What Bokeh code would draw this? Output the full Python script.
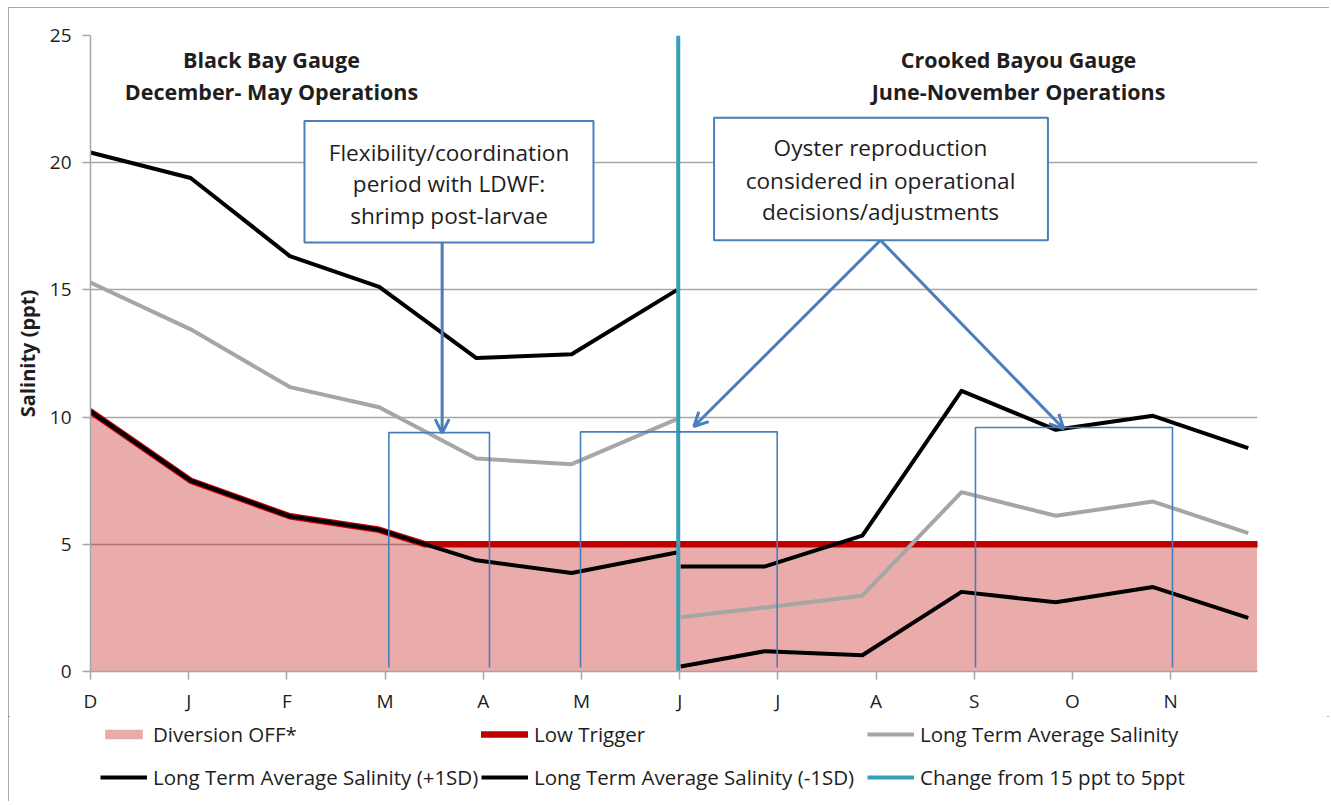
from bokeh.plotting import figure
from bokeh.layouts import column
from bokeh.models import (FixedTicker, Legend, LegendItem, Label, BoxAnnotation,
                          Arrow, OpenHead, Range1d)
from bokeh.embed import file_html
from bokeh.resources import INLINE

# ---------------- data ----------------
months = ["D", "J", "F", "M", "A", "M", "J", "J", "A", "S", "O", "N"]
tick_pos = list(range(12))

# Black Bay gauge (December - May operations), x in months from 1 Dec
bb_x = [0.0, 1.02, 2.03, 2.94, 3.93, 4.90, 5.97]
bb_avg = [15.29, 13.45, 11.18, 10.39, 8.37, 8.15, 9.92]
bb_upper = [20.40, 19.40, 16.33, 15.12, 12.32, 12.47, 14.99]
bb_lower = [10.22, 7.50, 6.10, 5.57, 4.37, 3.87, 4.68]

# Crooked Bayou gauge (June - November operations)
cb_x = [6.01, 6.87, 7.86, 8.87, 9.83, 10.82, 11.79]
cb_avg = [2.13, 2.52, 2.98, 7.05, 6.12, 6.68, 5.44]
cb_upper = [4.13, 4.13, 5.34, 11.03, 9.50, 10.05, 8.78]
cb_lower = [0.20, 0.80, 0.64, 3.13, 2.72, 3.32, 2.11]

# Low trigger (Diversion OFF below it)
trigger_x = [0.0, 1.02, 2.03, 2.94, 3.41, 11.88]
trigger_y = [10.22, 7.50, 6.10, 5.57, 5.00, 5.00]

# Change from 15 ppt to 5 ppt (1 June)
change_x = [5.985, 5.985]
change_y = [0.0, 25.0]

FONT = "Open Sans"
TXT = "#1e1e1e"
BLUE = "#4a7ebb"
RED = "#c00000"
GRAY = "#a6a6a6"
TEAL = "#34a0b8"

p = figure(width=1321, height=709, output_backend="svg", toolbar_location=None,
           x_range=Range1d(0, 11.884), y_range=Range1d(0, 25),
           min_border_left=82, min_border_right=72, min_border_top=28,
           min_border_bottom=44)
p.outline_line_color = None
p.background_fill_color = "white"
p.border_fill_color = "white"

# axes
p.xaxis.ticker = FixedTicker(ticks=tick_pos)
p.xaxis.major_label_overrides = {i: m for i, m in enumerate(months)}
p.yaxis.ticker = FixedTicker(ticks=[0, 5, 10, 15, 20, 25])
for ax in (p.xaxis[0], p.yaxis[0]):
    ax.axis_line_color = GRAY
    ax.axis_line_width = 1.5
    ax.major_tick_line_color = GRAY
    ax.major_tick_line_width = 1.5
    ax.major_tick_out = 8
    ax.major_tick_in = 0
    ax.minor_tick_line_color = None
    ax.major_label_text_font = FONT
    ax.major_label_text_font_size = "19px"
    ax.major_label_text_color = TXT
p.xaxis.major_label_standoff = 8
p.yaxis.major_label_standoff = 11
p.yaxis.axis_label = "Salinity (ppt)"
p.yaxis.axis_label_text_font = FONT
p.yaxis.axis_label_text_font_style = "bold"
p.yaxis.axis_label_text_font_size = "20px"
p.yaxis.axis_label_text_color = TXT
p.yaxis.axis_label_standoff = 6
p.xgrid.grid_line_color = None
p.ygrid.grid_line_color = GRAY
p.ygrid.grid_line_width = 1.3

# series
nan = float("nan")
all_x = bb_x + [nan] + cb_x
avg = bb_avg + [nan] + cb_avg
upper = bb_upper + [nan] + cb_upper
lower = bb_lower + [nan] + cb_lower

p.varea(x=trigger_x, y1=[0] * len(trigger_x), y2=trigger_y,
        fill_color=RED, fill_alpha=0.33)
p.line(trigger_x, trigger_y, line_color=RED, line_width=6.5,
       line_join="round", line_cap="round")
p.line(all_x, avg, line_color=GRAY, line_width=4, line_join="round")
p.line(all_x, upper, line_color="black", line_width=4, line_join="round")
p.line(all_x, lower, line_color="black", line_width=4, line_join="round")
p.line(change_x, change_y, line_color=TEAL, line_width=4)

# bracket boxes (open at bottom)
brackets = [(3.038, 4.063, 9.39), (4.99, 6.993, 9.42), (9.012, 11.018, 9.59)]
for l, r, t in brackets:
    p.line([l, l, r, r], [0.16, t, t, 0.16], line_color=BLUE, line_width=1.6)

# titles
for xc, lines in ((1.843, ["Black Bay Gauge", "December- May Operations"]),
                  (9.45, ["Crooked Bayou Gauge", "June-November Operations"])):
    for txt, yy in zip(lines, (24.05, 22.81)):
        p.add_layout(Label(x=xc, y=yy, text=txt, text_align="center",
                           text_baseline="middle", text_font=FONT,
                           text_font_style="bold", text_font_size="21.5px",
                           text_color=TXT))

# text boxes
boxes = [
    (2.179, 5.122, 21.64, 16.86, 3.651,
     ["Flexibility/coordination", "period with LDWF:", "shrimp post-larvae"],
     [20.42, 19.20, 17.94]),
    (6.35, 9.75, 21.77, 16.95, 8.045,
     ["Oyster reproduction", "considered in operational", "decisions/adjustments"],
     [20.58, 19.31, 18.09]),
]
for l, r, t, b, xc, lines, ys in boxes:
    p.add_layout(BoxAnnotation(left=l, right=r, top=t, bottom=b,
                               fill_color="white", fill_alpha=1.0,
                               line_color=BLUE, line_alpha=1.0, line_width=2))
    for txt, yy in zip(lines, ys):
        p.add_layout(Label(x=xc, y=yy, text=txt, text_align="center",
                           text_baseline="middle", text_font=FONT,
                           text_font_size="22.6px", text_color=TXT))

# arrows
arrows = [(3.581, 16.86, 3.581, 9.37), (8.045, 16.95, 6.144, 9.63),
          (8.045, 16.95, 9.91, 9.54)]
for x0, y0, x1, y1 in arrows:
    p.add_layout(Arrow(x_start=x0, y_start=y0, x_end=x1, y_end=y1,
                       line_color=BLUE, line_width=3,
                       end=OpenHead(size=14, line_color=BLUE, line_width=3)))

# ---------------- legend strip (below the chart) ----------------
lg = figure(width=1321, height=85, output_backend="svg", toolbar_location=None,
            x_axis_type=None, y_axis_type=None,
            x_range=Range1d(0, 1), y_range=Range1d(0, 1),
            min_border_left=0, min_border_right=0, min_border_top=0,
            min_border_bottom=0)
lg.outline_line_color = None
lg.border_fill_color = "white"
lg.background_fill_color = "white"

# legend keys (styled like the series above; nothing is drawn in the strip)
k_off = lg.varea(x=[nan], y1=[nan], y2=[nan], fill_color=RED, fill_alpha=0.33)
k_trig = lg.line([nan], [nan], line_color=RED, line_width=6.5, line_cap="round")
k_avg = lg.line([nan], [nan], line_color=GRAY, line_width=4)
k_up = lg.line([nan], [nan], line_color="black", line_width=4)
k_lo = lg.line([nan], [nan], line_color="black", line_width=4)
k_chg = lg.line([nan], [nan], line_color=TEAL, line_width=4)


def add_legend(items, vx):
    leg = Legend(items=items, location=(vx, 10), orientation="vertical",
                 label_text_font=FONT, label_text_font_size="20.5px",
                 label_text_color=TXT, glyph_width=47, glyph_height=12,
                 label_height=28, label_standoff=6, spacing=15, padding=0,
                 margin=0, background_fill_alpha=0, border_line_color=None)
    lg.add_layout(leg)


add_legend([LegendItem(label="Diversion OFF*", renderers=[k_off]),
            LegendItem(label="Long Term Average Salinity (+1SD)", renderers=[k_up])], 10)
add_legend([LegendItem(label="Low Trigger", renderers=[k_trig]),
            LegendItem(label="Long Term Average Salinity (-1SD)", renderers=[k_lo])], 391)
add_legend([LegendItem(label="Long Term Average Salinity", renderers=[k_avg]),
            LegendItem(label="Change from 15 ppt to 5ppt", renderers=[k_chg])], 777)

layout = column(p, lg, spacing=0)
layout.styles = {"margin-left": "8px", "margin-top": "7px",
                 "outline": "2px solid #8c8c8c", "outline-offset": "-2px"}

open("out.html", "w").write(file_html(layout, INLINE))
